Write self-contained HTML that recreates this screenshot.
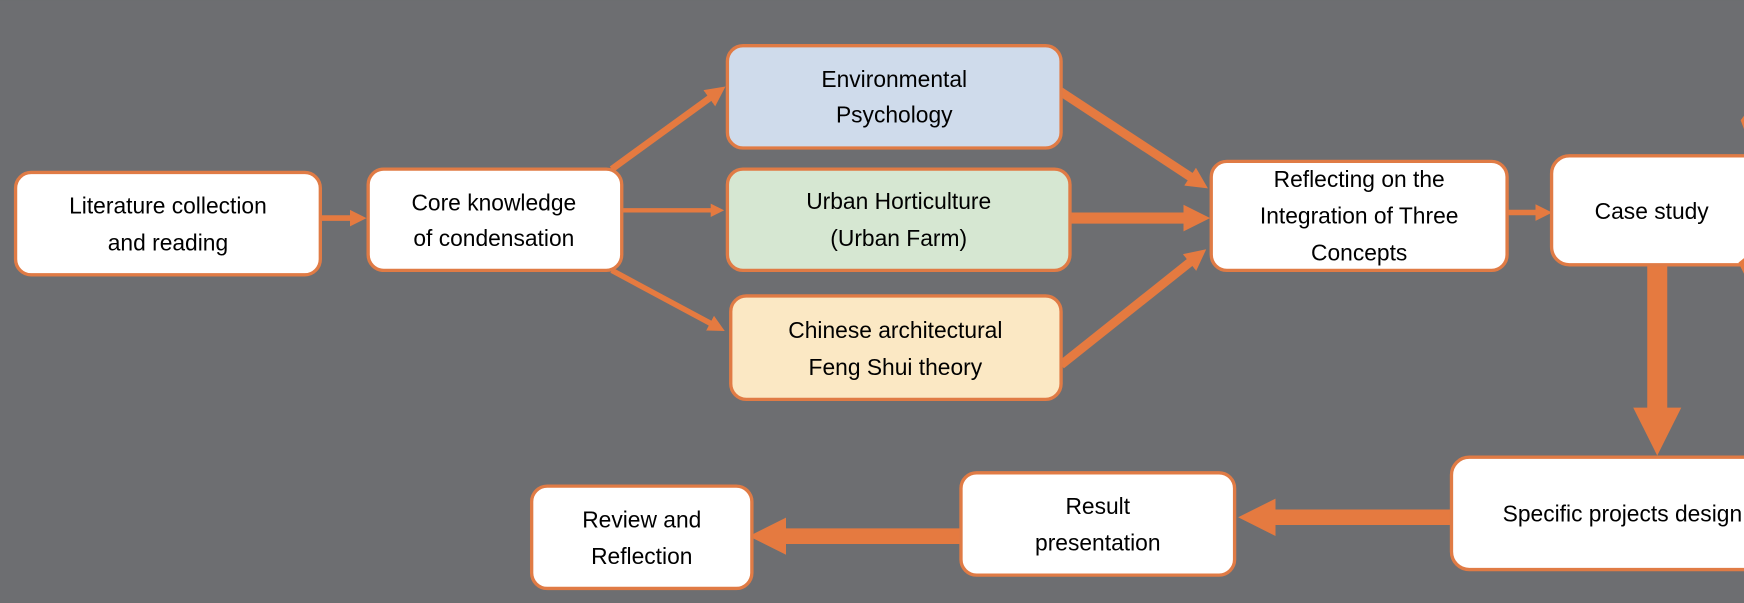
<!DOCTYPE html>
<html><head><meta charset="utf-8"><style>
html,body{margin:0;padding:0;background:#6d6e71;overflow:hidden}
svg{display:block}
text{font-family:"Liberation Sans",sans-serif;font-size:20.5px;fill:#000;text-anchor:middle}
</style></head><body>
<svg width="1744" height="603" viewBox="0 0 1568 542" xmlns="http://www.w3.org/2000/svg">
<defs>
<marker id="a" markerWidth="3" markerHeight="3" refX="1.5" refY="1.5" orient="auto" markerUnits="strokeWidth"><path d="M0,0 L3,1.5 L0,3 z" fill="#e57a40"/></marker>
<marker id="b" markerWidth="2.4" markerHeight="2.4" refX="1.2" refY="1.2" orient="auto" markerUnits="strokeWidth"><path d="M0,0 L2.4,1.2 L0,2.4 z" fill="#e57a40"/></marker>
</defs>
<rect width="1568" height="542" fill="#6d6e71"/>
<g stroke="#e57a40" fill="none">
<line x1="288" y1="196" x2="322" y2="196" stroke-width="5" marker-end="url(#a)"/>
<line x1="550" y1="152" x2="645" y2="83" stroke-width="6" marker-end="url(#a)"/>
<line x1="559" y1="189" x2="645" y2="189" stroke-width="4" marker-end="url(#a)"/>
<line x1="550" y1="243" x2="645" y2="294" stroke-width="5" marker-end="url(#a)"/>
<line x1="947" y1="78" x2="1078" y2="164" stroke-width="8" marker-end="url(#b)"/>
<line x1="962" y1="196" x2="1076" y2="196" stroke-width="10" marker-end="url(#b)"/>
<line x1="954" y1="328" x2="1077" y2="230" stroke-width="8" marker-end="url(#b)"/>
<line x1="1355" y1="191" x2="1388" y2="191" stroke-width="5" marker-end="url(#a)"/>
<line x1="1490" y1="238" x2="1490" y2="388" stroke-width="18" marker-end="url(#b)"/>
<line x1="1305" y1="465" x2="1130" y2="465" stroke-width="14" marker-end="url(#b)"/>
<line x1="864" y1="482" x2="690" y2="482" stroke-width="14" marker-end="url(#b)"/>
</g>
<g stroke="#e07b45" stroke-width="3">
<rect x="14" y="155" width="274" height="92" rx="14" fill="#fff"/>
<rect x="331" y="152" width="228" height="91" rx="14" fill="#fff"/>
<rect x="654" y="41" width="300" height="92" rx="14" fill="#cfdbeb"/>
<rect x="654" y="152" width="308" height="91" rx="14" fill="#d6e7d2"/>
<rect x="657" y="266" width="297" height="93" rx="14" fill="#fbe8c4"/>
<rect x="1089" y="145" width="266" height="98" rx="14" fill="#fff"/>
<rect x="1395" y="140" width="200" height="98" rx="16" fill="#fff"/>
<rect x="1305" y="411" width="300" height="101" rx="16" fill="#fff"/>
<rect x="864" y="425" width="246" height="92" rx="14" fill="#fff"/>
<rect x="478" y="437" width="198" height="92" rx="14" fill="#fff"/>
</g>
<path d="M1565,108 L1568,104 L1568,116 z" fill="#e57a40"/>
<path d="M1563,236 L1568,232 L1568,246 z" fill="#e57a40"/>
<text x="151" y="192">Literature collection</text>
<text x="151" y="225">and reading</text>
<text x="444" y="189">Core knowledge</text>
<text x="444" y="221">of condensation</text>
<text x="804" y="78">Environmental</text>
<text x="804" y="110">Psychology</text>
<text x="808" y="188">Urban Horticulture</text>
<text x="808" y="221">(Urban Farm)</text>
<text x="805" y="304">Chinese architectural</text>
<text x="805" y="337">Feng Shui theory</text>
<text x="1222" y="168">Reflecting on the</text>
<text x="1222" y="201">Integration of Three</text>
<text x="1222" y="234">Concepts</text>
<text x="1485" y="197">Case study</text>
<text x="1351" y="469" style="text-anchor:start">Specific projects design</text>
<text x="987" y="462">Result</text>
<text x="987" y="495">presentation</text>
<text x="577" y="474">Review and</text>
<text x="577" y="507">Reflection</text>
</svg>
</body></html>
